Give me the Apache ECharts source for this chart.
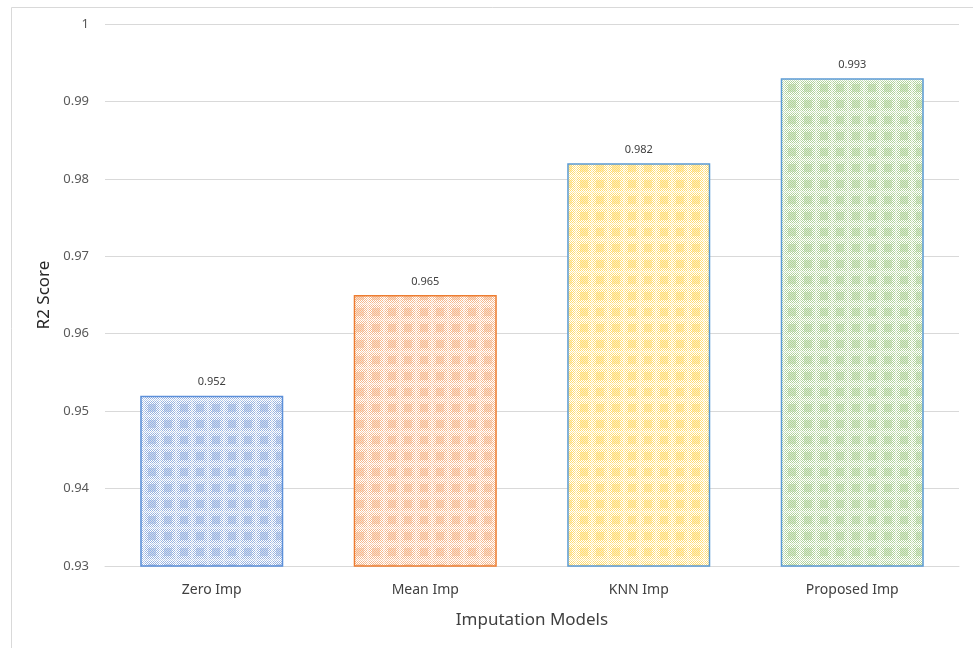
<!DOCTYPE html>
<html>
<head>
<meta charset="utf-8">
<style>
  html, body { margin: 0; padding: 0; background: #ffffff; }
  #chart { width: 973px; height: 648px; }
</style>
<script src="https://cdn.jsdelivr.net/npm/echarts@6/dist/echarts.min.js"></script>
</head>
<body>
<div id="chart"></div>
<script>
// Imputation model comparison (R2 score)
const categories = ['Zero Imp', 'Mean Imp', 'KNN Imp', 'Proposed Imp'];
const r2Scores = [0.952, 0.965, 0.982, 0.993];
const fillColors = ['#4472C4', '#ED7D31', '#FFC000', '#70AD47'];
const borderColors = ['#5B8FD9', '#ED7D31', '#5B9BD5', '#5B9BD5'];
const yTicks = { min: 0.93, max: 1, step: 0.01 };

// Checkered tile: a fine checker with a denser square in the middle of each cell
function makePattern(hex) {
  const size = 16;
  const c = document.createElement('canvas');
  c.width = size; c.height = size;
  const ctx = c.getContext('2d');
  ctx.fillStyle = '#ffffff';
  ctx.fillRect(0, 0, size, size);
  const r = parseInt(hex.slice(1, 3), 16);
  const g = parseInt(hex.slice(3, 5), 16);
  const b = parseInt(hex.slice(5, 7), 16);
  for (let y = 0; y < size; y++) {
    for (let x = 0; x < size; x++) {
      const inBlock = x >= 4 && x < 12 && y >= 4 && y < 12;
      const edge = x === 0 || y === 0 || x === 15 || y === 15;
      let a = 0;
      if ((x + y) % 2 === 0) a = 0.55;
      else if (inBlock) a = 0.28;
      if (edge) a *= 0.7;
      if (a > 0) {
        ctx.fillStyle = `rgba(${r},${g},${b},${a})`;
        ctx.fillRect(x, y, 1, 1);
      }
    }
  }
  return c;
}

const chart = echarts.init(document.getElementById('chart'), null, { renderer: 'canvas' });

const textColor = '#595959';
const fontFamily = '"Noto Sans", "Open Sans", sans-serif';

chart.setOption({
  backgroundColor: '#ffffff',
  animation: false,
  graphic: [{
    type: 'rect',
    shape: { x: 11.5, y: 7.5, width: 1000, height: 700 },
    style: { fill: 'none', stroke: '#d9d9d9', lineWidth: 1 },
    silent: true
  }],
  grid: { left: 105, right: 14, top: 24, bottom: 82, containLabel: false },
  xAxis: {
    type: 'category',
    data: categories,
    name: 'Imputation Models',
    nameLocation: 'middle',
    nameGap: 46,
    nameTextStyle: { fontSize: 17, color: '#404040', fontFamily },
    axisLine: { show: true, lineStyle: { color: '#d9d9d9', width: 1 } },
    axisTick: { show: false },
    axisLabel: { fontSize: 14, color: '#404040', margin: 17, fontFamily }
  },
  yAxis: {
    type: 'value',
    min: yTicks.min,
    max: yTicks.max,
    interval: yTicks.step,
    name: 'R2 Score',
    nameLocation: 'middle',
    nameGap: 50,
    nameRotate: 90,
    nameTextStyle: { fontSize: 17, color: '#262626', fontFamily },
    axisLine: { show: false },
    axisTick: { show: false },
    axisLabel: {
      fontSize: 13,
      color: textColor,
      margin: 16,
      fontFamily,
      formatter: v => String(Number(v.toFixed(2)))
    },
    splitLine: { lineStyle: { color: '#d9d9d9', width: 1 } }
  },
  series: [{
    type: 'bar',
    barWidth: '67%',
    data: r2Scores.map((v, i) => ({
      value: v,
      itemStyle: {
        color: { image: makePattern(fillColors[i]), repeat: 'repeat' },
        borderColor: borderColors[i],
        borderWidth: 1.5
      }
    })),
    label: {
      show: true,
      position: 'top',
      distance: 8,
      fontSize: 11,
      color: '#404040',
      fontFamily,
      formatter: p => p.value.toFixed(3)
    }
  }]
});
</script>
</body>
</html>
